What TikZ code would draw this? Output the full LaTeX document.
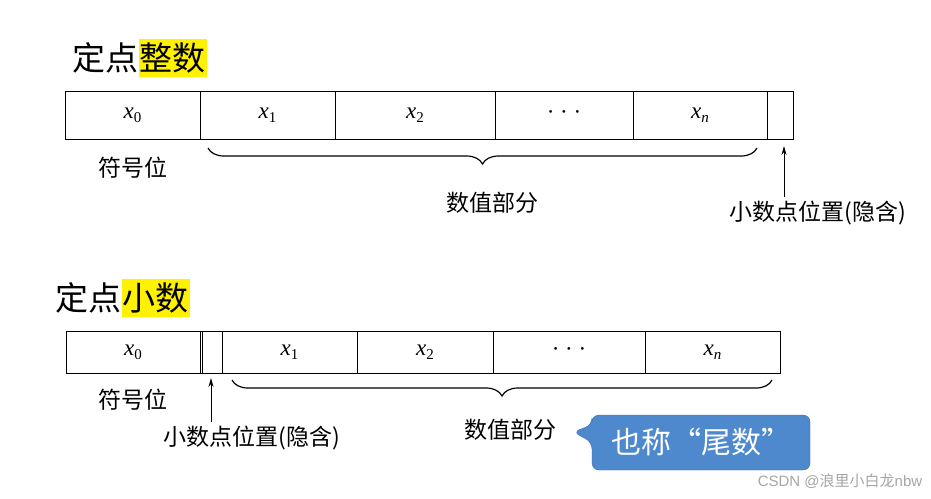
\documentclass[tikz,border=0pt]{standalone}
\usepackage{fontspec}
\setmainfont{Liberation Serif}
\newfontfamily\cjk{Noto Sans CJK SC}
\newfontfamily\wm{Liberation Sans}
\usetikzlibrary{decorations.pathreplacing,arrows.meta}
\newcommand{\xv}[1]{{\itshape x}\raisebox{-4pt}{\fontsize{15}{15}\selectfont #1}}
\begin{document}
\begin{tikzpicture}[x=1pt,y=-1pt,
  cell/.style={draw,line width=1pt},
  lbl/.style={font=\cjk\fontsize{23}{23}\selectfont,inner sep=0pt},
  ttl/.style={font=\cjk\fontsize{33}{33}\selectfont,inner sep=0pt},
  hl/.style={fill=yellow,inner ysep=4pt,inner xsep=1pt},
  br/.style={decorate,decoration={brace,mirror,amplitude=16pt,aspect=0.5},line width=1.2pt},
  arr/.style={-{Stealth[length=9pt,width=5pt]},line width=1pt},
  ctext/.style={font=\fontsize{23}{23}\selectfont}]
\useasboundingbox[fill=white] (0,0) rectangle (931,498);
% top
\node[ttl,anchor=west] (t1a) at (72,58) {定点};
\node[ttl,anchor=west,hl] (t1b) at (t1a.east) {整数};
\foreach \a/\b/\n in {65/200/a0,200/335/a1,335/495/a2,495/633/a3,633/767/a4,767/793/a5}
  \node[cell,minimum height=48pt,minimum width={\b-\a},inner sep=0pt] (\n) at ({(\a+\b)/2},115) {};
\node[ctext] at (a0) {\xv{0}};
\node[ctext] at (a1) {\xv{1}};
\node[ctext] at (a2) {\xv{2}};
\node[ctext] at (a3) {· · ·};
\node[ctext] at (a4) {\xv{\itshape n}};
\node[lbl] (s1) at (133,168) {符号位};
\draw[br] (208,148) -- (757,148);
\node[lbl] (v1) at (492,203) {数值部分};
\node[lbl] (p1) at (818,213) {小数点位置(隐含)};
\draw[arr] (784,197) -- (784,146);
% bottom
\node[ttl,anchor=west] (t2a) at (55,298) {定点};
\node[ttl,anchor=west,hl] (t2b) at (t2a.east) {小数};
\foreach \a/\b/\n in {66/200/c0,200/222/c1,222/357/c2,357/493/c3,493/645/c4,645/780/c5}
  \node[cell,minimum height=42pt,minimum width={\b-\a},inner sep=0pt] (\n) at ({(\a+\b)/2},352) {};
\draw[line width=1pt] (202,331) -- (202,373);
\node[ctext] at (c0) {\xv{0}};
\node[ctext] at (c2) {\xv{1}};
\node[ctext] at (c3) {\xv{2}};
\node[ctext] at (c4) {· · ·};
\node[ctext] at (c5) {\xv{\itshape n}};
\node[lbl] (s2) at (133,400) {符号位};
\draw[arr] (211,422) -- (211,378);
\node[lbl] (p2) at (252,438) {小数点位置(隐含)};
\draw[br] (232,380) -- (772,380);
\node[lbl] (v2) at (510,430) {数值部分};
\draw[fill={rgb,255:red,79;green,137;blue,205},draw={rgb,255:red,60;green,110;blue,170},rounded corners=7pt]
  (592,415) -- (810,415) -- (810,470) -- (592,470) -- (592,442) -- (573,432) -- (592,425) -- cycle;
\node[font=\cjk\fontsize{30}{30}\selectfont,text=white,inner sep=0pt] (cb) at (701,442) {也称“尾数”};
\node[font=\wm\fontsize{15}{15}\selectfont,text=gray!70,inner sep=0pt] (wm) at (840,481) {CSDN @{\cjk 浪里小白龙}nbw};
\end{tikzpicture}
\end{document}
